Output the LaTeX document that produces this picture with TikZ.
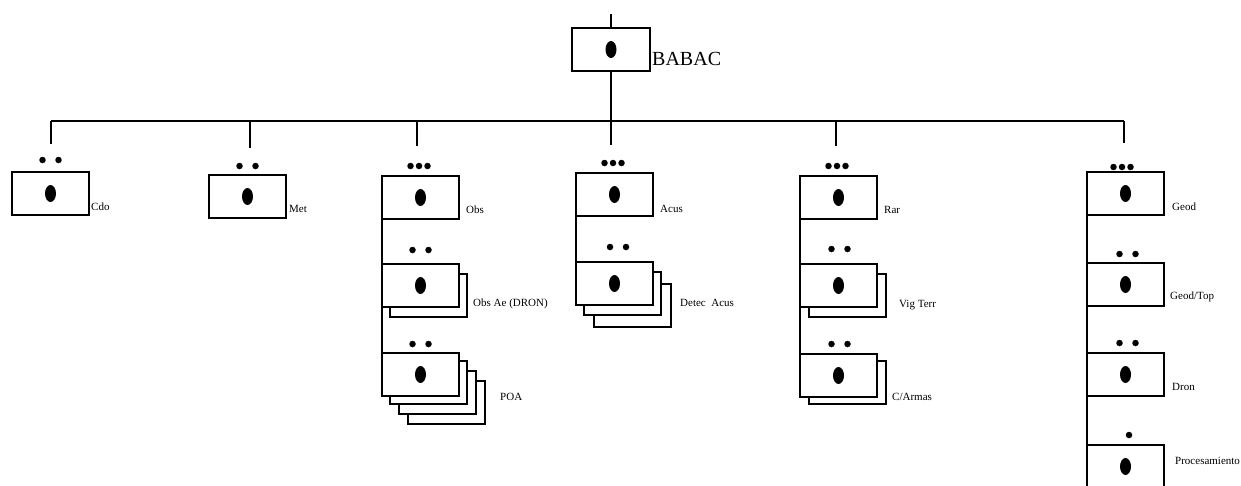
\documentclass[tikz,border=0pt]{standalone}
\usepackage{fontspec}
\setmainfont{Liberation Serif}
\usetikzlibrary{shapes.geometric}
\tikzset{
  ubox/.style={draw, line width=1.7pt, fill=white, minimum width=77pt, minimum height=43pt, inner sep=0pt, outer sep=0pt, anchor=north west},
  bigdot/.style={ellipse, fill=black, minimum width=11pt, minimum height=17pt, inner sep=0pt},
  smalldot/.style={circle, fill=black, minimum size=6.5pt, inner sep=0pt},
  lbl/.style={anchor=west, inner sep=0pt, font=\fontsize{11}{13}\selectfont},
  link/.style={line width=1.8pt}
}
\newcommand{\unitbox}[3]{\node[ubox] (#1) at (#2,#3) {}; \node[bigdot] (#1-c) at (#1.center) {};}
\newcommand{\shadowbox}[3]{\node[ubox] (#1) at (#2,#3) {};}
\newcommand{\dotsone}[3]{\node[smalldot] (#1) at (#2,#3) {};}
\newcommand{\dotstwo}[3]{\node[smalldot] (#1-l) at (#2-8,#3) {}; \node[smalldot] (#1-r) at (#2+8,#3) {};}
\newcommand{\dotsthree}[3]{\node[smalldot] (#1-l) at (#2-8.5,#3) {}; \node[smalldot] (#1-m) at (#2,#3) {}; \node[smalldot] (#1-r) at (#2+8.5,#3) {};}
\begin{document}
\begin{tikzpicture}[x=1pt, y=-1pt]
\clip (0,0) rectangle (1241,485);
\fill[white] (0,0) rectangle (1241,485);

% top unit
\coordinate (topin) at (611,14);
\node[ubox, minimum width=78pt] (babac) at (572,28) {};
\node[bigdot] (babac-c) at (babac.center) {};
\node[anchor=west, inner sep=0pt, font=\fontsize{20}{24}\selectfont] (babac-l) at (652,59) {BABAC};
\draw[link] (topin) -- (babac.north);

% bus
\coordinate (busL) at (51,121);
\coordinate (busR) at (1124,121);
\draw[link] (busL) -- (busR);
\coordinate (acus-top) at (611,145);
\draw[link] (babac.south) -- (acus-top);

% drops
\coordinate (cdo-b) at (51,121);  \coordinate (cdo-t) at (51,144);
\coordinate (met-b) at (250,121); \coordinate (met-t) at (250,148);
\coordinate (obs-b) at (417,121);   \coordinate (obs-t) at (417,146);
\coordinate (rar-b) at (836,121);   \coordinate (rar-t) at (836,146);
\coordinate (geod-b) at (1124,121); \coordinate (geod-t) at (1124,143);
\draw[link] (cdo-b) -- (cdo-t);
\draw[link] (met-b) -- (met-t);
\draw[link] (obs-b) -- (obs-t);
\draw[link] (rar-b) -- (rar-t);
\draw[link] (geod-b) -- (geod-t);

% Cdo
\dotstwo{cdo-dots}{50.5}{160}
\unitbox{cdo}{12}{172}
\node[lbl] (cdo-l) at (91,207) {Cdo};

% Met
\dotstwo{met-dots}{247.5}{166}
\unitbox{met}{209}{175}
\node[lbl] (met-l) at (289,209) {Met};

% Obs column
\dotsthree{obs1-dots}{419}{166}
\unitbox{obs1}{382}{176}
\node[lbl] (obs1-l) at (466,210) {Obs};
\dotstwo{obs2-dots}{420.5}{250}
\shadowbox{obs2-s1}{390}{274}
\unitbox{obs2}{382}{264}
\node[lbl] (obs2-l) at (473,304) {Obs Ae (DRON)};
\dotstwo{obs3-dots}{420.5}{344}
\shadowbox{obs3-s3}{408}{381}
\shadowbox{obs3-s2}{399}{371}
\shadowbox{obs3-s1}{390}{361}
\unitbox{obs3}{382}{353}
\node[lbl] (obs3-l) at (500,397) {POA};
\draw[link] (obs1.south west) -- (obs2.north west);
\draw[link] (obs2.south west) -- (obs3.north west);

% Acus column
\dotsthree{acus1-dots}{613}{163}
\unitbox{acus1}{576}{173}
\node[lbl] (acus1-l) at (660,209) {Acus};
\dotstwo{acus2-dots}{618}{247}
\shadowbox{acus2-s2}{594}{284}
\shadowbox{acus2-s1}{584}{272}
\unitbox{acus2}{576}{262}
\node[lbl] (acus2-l) at (680,303) {Detec\ \ Acus};
\draw[link] (acus1.south west) -- (acus2.north west);

% Rar column
\dotsthree{rar1-dots}{837}{166}
\unitbox{rar1}{800}{176}
\node[lbl] (rar1-l) at (884,210) {Rar};
\dotstwo{rar2-dots}{839.5}{249}
\shadowbox{rar2-s1}{809}{274}
\unitbox{rar2}{800}{264}
\node[lbl] (rar2-l) at (899,305) {Vig Terr};
\dotstwo{rar3-dots}{839.5}{344}
\shadowbox{rar3-s1}{809}{361}
\unitbox{rar3}{800}{354}
\node[lbl] (rar3-l) at (892,397) {C/Armas};
\draw[link] (rar1.south west) -- (rar2.north west);
\draw[link] (rar2.south west) -- (rar3.north west);

% Geod column
\dotsthree{geod1-dots}{1122}{167}
\unitbox{geod1}{1087}{172}
\node[lbl] (geod1-l) at (1172,207) {Geod};
\dotstwo{geod2-dots}{1127.5}{254}
\unitbox{geod2}{1087}{263}
\node[lbl] (geod2-l) at (1170,297) {Geod/Top};
\dotstwo{geod3-dots}{1127.5}{343}
\unitbox{geod3}{1087}{353}
\node[lbl] (geod3-l) at (1172,387) {Dron};
\dotsone{geod4-dots}{1129}{435}
\unitbox{geod4}{1087}{445}
\node[lbl] (geod4-l) at (1175,461) {Procesamiento};
\draw[link] (geod1.south west) -- (geod2.north west);
\draw[link] (geod2.south west) -- (geod3.north west);
\draw[link] (geod3.south west) -- (geod4.north west);
\end{tikzpicture}
\end{document}
